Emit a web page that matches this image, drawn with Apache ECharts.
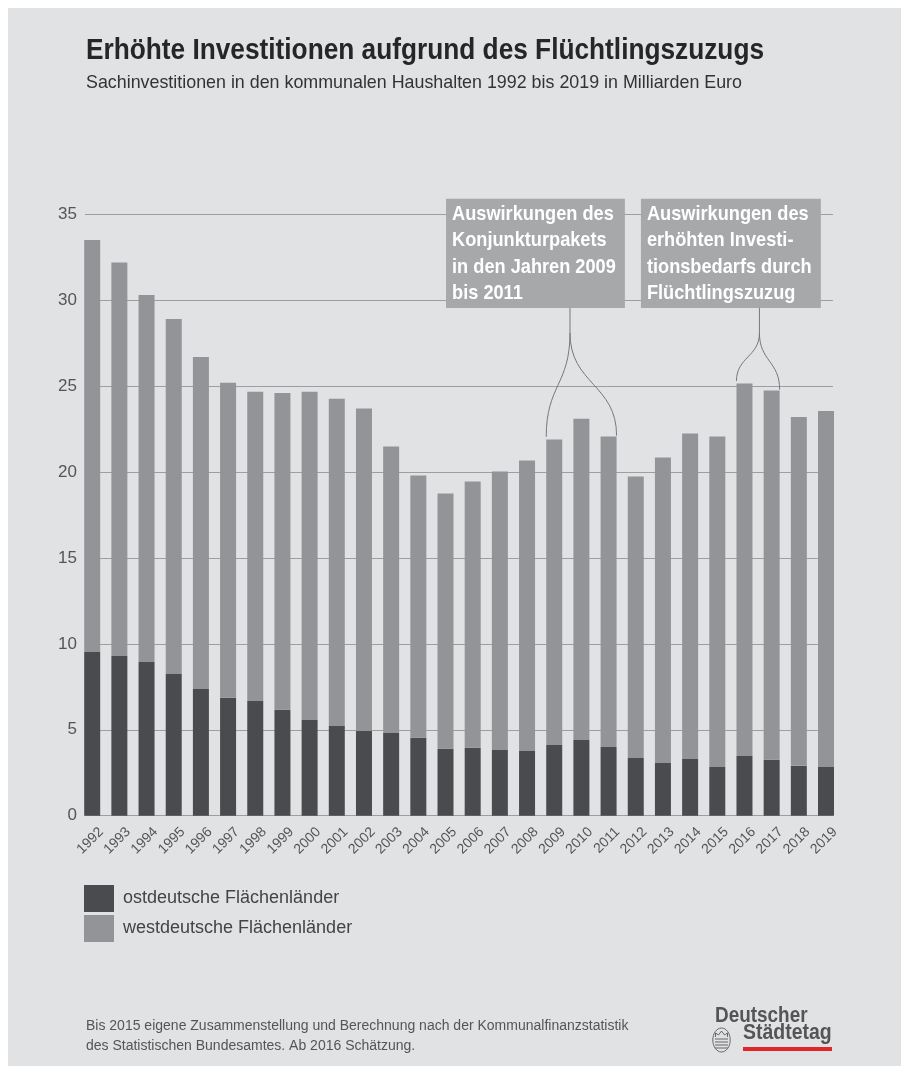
<!DOCTYPE html>
<html>
<head>
<meta charset="utf-8">
<script src="https://cdn.jsdelivr.net/npm/echarts@6/dist/echarts.min.js"></script>
<style>
html,body{margin:0;padding:0;background:#ffffff;}
#wrap{position:relative;width:909px;height:1073px;background:#ffffff;}
#panel{position:absolute;left:8px;top:8px;width:893px;height:1058px;background:#e1e2e4;}
#chart{position:absolute;left:0;top:0;width:909px;height:1073px;}
</style>
</head>
<body>
<div id="wrap"><div id="panel"></div><div id="chart"></div></div>
<script>
// ---- data ----
const years = ['1992','1993','1994','1995','1996','1997','1998','1999','2000','2001','2002','2003','2004','2005','2006','2007','2008','2009','2010','2011','2012','2013','2014','2015','2016','2017','2018','2019'];
const east = [9.53,9.3,8.95,8.25,7.38,6.86,6.68,6.16,5.57,5.22,4.93,4.82,4.53,3.89,3.95,3.83,3.77,4.12,4.41,4.0,3.36,3.07,3.3,2.84,3.48,3.25,2.9,2.84];
const west = [23.97,22.9,21.35,20.65,19.32,18.34,18.0,18.44,19.11,19.05,18.77,16.67,15.27,14.86,15.5,16.2,16.9,17.78,18.69,18.07,16.38,17.78,18.95,19.23,21.67,21.5,20.3,20.71];
const seriesNames = ['ostdeutsche Flächenländer','westdeutsche Flächenländer'];
const yMin = 0, yMax = 35, yStep = 5;
const titleText = 'Erhöhte Investitionen aufgrund des Flüchtlingszuzugs';
const subtitleText = 'Sachinvestitionen in den kommunalen Haushalten 1992 bis 2019 in Milliarden Euro';
const footerLines = ['Bis 2015 eigene Zusammenstellung und Berechnung nach der Kommunalfinanzstatistik','des Statistischen Bundesamtes. Ab 2016 Schätzung.'];
const notes = [
  {lines:['Auswirkungen des','Konjunkturpakets','in den Jahren 2009','bis 2011'], from:'2009', to:'2011'},
  {lines:['Auswirkungen des','erhöhten Investi-','tionsbedarfs durch','Flüchtlingszuzug'], from:'2016', to:'2017'}
];
// annotation layout (category index / value units)
const noteLayout = [
  {boxL:13.02, boxR:19.6, boxTop:35.9, boxBot:29.55, stem:17.58, stemEnd:28.1},
  {boxL:20.19, boxR:26.81, boxTop:35.9, boxBot:29.55, stem:24.55, stemEnd:28.1}
];

const FN = "'Liberation Sans', Arial, sans-serif";
const C_EAST = '#4a4b4e', C_WEST = '#939497';
const BAR_W = 16;

const chart = echarts.init(document.getElementById('chart'), null, {renderer:'canvas'});
const gTop = 214.3, gH = 601.4, gL = 78.6, gW = 761;
chart.setOption({
  animation:false,
  backgroundColor:'transparent',
  grid:[
    {left:gL, width:gW, top:gTop, height:gH},
    {left:85, width:748, top:gTop, height:gH},
    {left:gL+9, width:gW, top:gTop, height:gH}
  ],
  xAxis:[
    {type:'category', gridIndex:0, data:years, axisLine:{show:false}, axisTick:{show:false}, axisLabel:{show:false}},
    {type:'value', gridIndex:1, show:false, min:0, max:1},
    {type:'category', gridIndex:2, data:years, axisLine:{show:false}, axisTick:{show:false},
     axisLabel:{rotate:45, interval:0, margin:14, fontSize:14, fontFamily:FN, color:'#555'}}
  ],
  yAxis:[
    {type:'value', gridIndex:0, min:yMin, max:yMax, interval:yStep, show:false},
    {type:'value', gridIndex:1, min:yMin, max:yMax, interval:yStep,
     axisLine:{show:false}, axisTick:{show:false},
     splitLine:{show:true, lineStyle:{color:'#9d9ea0', width:1}},
     axisLabel:{margin:8, fontSize:17, fontFamily:FN, color:'#555'}},
    {type:'value', gridIndex:2, min:yMin, max:yMax, show:false}
  ],
  legend:{
    orient:'vertical', left:84, top:885, padding:0, itemWidth:30, itemHeight:27, itemGap:3,
    icon:'rect', data:seriesNames, selectedMode:false,
    textStyle:{fontSize:18, fontFamily:FN, color:'#444', padding:[0,0,0,4]}
  },
  series:[
    {name:seriesNames[0], type:'bar', stack:'t', xAxisIndex:0, yAxisIndex:0, data:east, barWidth:BAR_W,
     itemStyle:{color:C_EAST}, emphasis:{disabled:true}},
    {name:seriesNames[1], type:'bar', stack:'t', xAxisIndex:0, yAxisIndex:0, data:west, barWidth:BAR_W,
     itemStyle:{color:C_WEST}, emphasis:{disabled:true}},
    {type:'line', xAxisIndex:1, yAxisIndex:1, data:[], silent:true},
    {type:'line', xAxisIndex:2, yAxisIndex:2, data:[], silent:true}
  ]
});

// ---- annotations computed through the chart's scales ----
const toPx = (idx, val) => {
  const a = chart.convertToPixel({xAxisIndex:0, yAxisIndex:0}, [0, val]);
  const b = chart.convertToPixel({xAxisIndex:0, yAxisIndex:0}, [1, val]);
  return [a[0] + (b[0]-a[0])*idx, a[1]];
};
const total = i => east[i] + west[i];
const g = [];
const txt = (x, y, text, font, fill, sx, z) => ({type:'text', z:z||100, x:x, y:y, scaleX:sx||1,
  style:{x:0, y:0, text:text, font:font, fill:fill, verticalAlign:'middle'}});
// title & subtitle
g.push(txt(86, 51, titleText, "bold 29px "+FN, '#262626', 0.905));
g.push(txt(86, 83, subtitleText, "18.5px "+FN, '#333', 0.965));
// footer
footerLines.forEach((t,k)=>g.push(txt(86, 1026+k*20, t, "14px "+FN, '#555', 1)));

notes.forEach((n, k) => {
  const L = noteLayout[k];
  const tl = toPx(L.boxL, L.boxTop), br = toPx(L.boxR, L.boxBot);
  g.push({type:'rect', z:50, shape:{x:tl[0], y:tl[1], width:br[0]-tl[0], height:br[1]-tl[1]}, style:{fill:'#a7a8aa'}});
  n.lines.forEach((t, j) => g.push(txt(tl[0]+6, tl[1]+15.5+j*26.2, t, "bold 21px "+FN, '#ffffff', 0.866, 51)));
  const s0 = toPx(L.stem, L.boxBot), s1 = toPx(L.stem, L.stemEnd);
  g.push({type:'line', z:50, shape:{x1:s0[0], y1:s0[1], x2:s1[0], y2:s1[1]}, style:{stroke:'#777', lineWidth:1}});
  const i0 = years.indexOf(n.from), i1 = years.indexOf(n.to);
  const step = toPx(1,0)[0] - toPx(0,0)[0];
  const halfBar = (BAR_W/2)/step;
  const ends = [[i0 - halfBar, total(i0)+0.15], [i1 + halfBar, total(i1)+0.05]];
  ends.forEach(e => {
    const p = toPx(e[0], e[1]);
    const mid = (s1[1] + p[1]) / 2;
    g.push({type:'bezierCurve', z:50, shape:{x1:s1[0], y1:s1[1], cpx1:s1[0], cpy1:mid, cpx2:p[0], cpy2:mid, x2:p[0], y2:p[1]},
      style:{stroke:'#777', lineWidth:1, fill:null}});
  });
});

// logo
g.push(txt(715, 1016, 'Deutscher', "bold 22px "+FN, '#555', 0.86));
g.push(txt(743, 1033, 'Städtetag', "bold 22px "+FN, '#555', 0.885));
g.push({type:'rect', z:100, shape:{x:743, y:1047, width:89, height:4}, style:{fill:'#e3242b'}});
g.push({type:'ellipse', z:100, shape:{cx:721.5, cy:1040, rx:8.7, ry:12}, style:{fill:null, stroke:'#666', lineWidth:1}});
[1039,1042,1045,1048].forEach(y=>g.push({type:'line', z:100, shape:{x1:715, y1:y, x2:728, y2:y}, style:{stroke:'#666', lineWidth:1}}));
g.push({type:'polyline', z:100, shape:{points:[[715.5,1037],[715.5,1033],[718.5,1035],[721.5,1031],[724.5,1035],[727.5,1033],[727.5,1037]]}, style:{stroke:'#666', lineWidth:1, fill:null}});

chart.setOption({graphic: g});
</script>
</body>
</html>
